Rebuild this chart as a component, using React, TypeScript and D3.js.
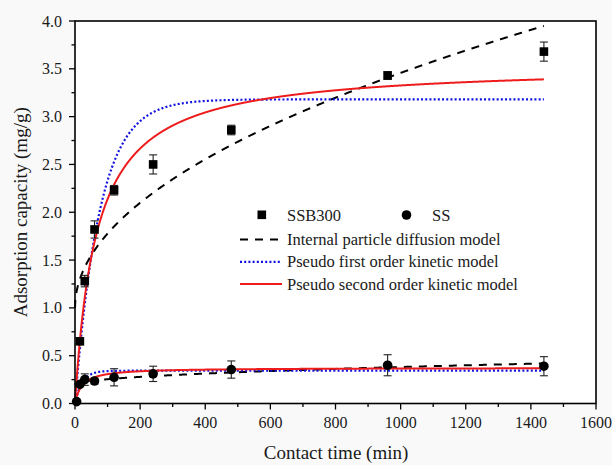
import React from "react";
import * as d3 from "d3";

// Contact times (min) and measured adsorption capacities (mg/g)
const ssb300Time = [15, 30, 60, 120, 240, 480, 960, 1440];
const ssb300Q = [0.65, 1.28, 1.82, 2.23, 2.50, 2.86, 3.43, 3.68];
const ssb300Err = [0.02, 0.06, 0.09, 0.05, 0.10, 0.05, 0.04, 0.10];

const ssTime = [5, 15, 30, 60, 120, 240, 480, 960, 1440];
const ssQ = [0.02, 0.20, 0.25, 0.235, 0.274, 0.31, 0.355, 0.40, 0.39];
const ssErr = [0, 0.02, 0.06, 0.03, 0.09, 0.08, 0.09, 0.11, 0.10];

// Fitted kinetic model parameters
// intra-particle diffusion: q = kid * sqrt(t) + C
const ipdSSB300 = { kid: 0.0777, c: 1.0 };
const ipdSS = { kid: 0.0059, c: 0.195 };
// pseudo first order: q = qe (1 - exp(-k1 t))
const pfoSSB300 = { qe: 3.18, k1: 0.0132 };
const pfoSS = { qe: 0.343, k1: 0.045 };
// pseudo second order: q = qe t / (h + t), h = 1 / (k2 qe)
const psoSSB300 = { qe: 3.545, h: 65.9 };
const psoSS = { qe: 0.3735, h: 21.7 };

const xTicks = [0, 200, 400, 600, 800, 1000, 1200, 1400, 1600];
const yTicks = [0, 0.5, 1.0, 1.5, 2.0, 2.5, 3.0, 3.5, 4.0];

const legendLines = [
  { label: "Internal particle diffusion model", color: "#000000", dash: "8,7", width: 2 },
  { label: "Pseudo first order kinetic model", color: "#1010e0", dash: "2,2.2", width: 2.2 },
  { label: "Pseudo second order kinetic model", color: "#ee1c1c", dash: "", width: 2 },
];

const W = 612;
const H = 465;
const M = { left: 75, right: 596, top: 21, bottom: 403.5 };
const FONT = '"Liberation Serif", "Times New Roman", Times, serif';
const txt = { fontFamily: FONT };

export default function App() {
  const x = d3.scaleLinear().domain([0, 1600]).range([M.left, M.right]);
  const y = d3.scaleLinear().domain([0, 4]).range([M.bottom, M.top]);

  const tSamples = d3.range(0, 1440.001, 1);
  const line = d3
    .line<[number, number]>()
    .x((d) => x(d[0]))
    .y((d) => y(d[1]));

  const ipd = (p: { kid: number; c: number }) =>
    line(tSamples.map((t) => [t, p.c + p.kid * Math.sqrt(t)]))!;
  const pfo = (p: { qe: number; k1: number }) =>
    line(tSamples.map((t) => [t, p.qe * (1 - Math.exp(-p.k1 * t))]))!;
  const pso = (p: { qe: number; h: number }) =>
    line(tSamples.map((t) => [t, (p.qe * t) / (p.h + t)]))!;

  const xMinor = d3.range(100, 1600, 200);
  const yMinor = d3.range(0.25, 4, 0.5);

  const errBar = (t: number, q: number, e: number, key: string) => {
    if (e <= 0) return null;
    const cx = x(t);
    const y1 = y(q + e);
    const y2 = y(q - e);
    return (
      <g key={key} stroke="#222" strokeWidth={1.1}>
        <line x1={cx} x2={cx} y1={y1} y2={y2} />
        <line x1={cx - 4} x2={cx + 4} y1={y1} y2={y1} />
        <line x1={cx - 4} x2={cx + 4} y1={y2} y2={y2} />
      </g>
    );
  };

  const legX = 240;
  const legTextX = 287;

  return (
    <svg width={W} height={H} style={{ position: "absolute", left: 0, top: 0, fontFamily: FONT }}>
      <rect x={0} y={0} width={W} height={H} fill="#f9f9f9" />
      <rect
        x={M.left}
        y={M.top}
        width={M.right - M.left}
        height={M.bottom - M.top}
        fill="#ffffff"
      />

      {/* model curves */}
      <g fill="none">
        <path d={ipd(ipdSSB300)} stroke="#000" strokeWidth={2} strokeDasharray="8,7" />
        <path d={ipd(ipdSS)} stroke="#000" strokeWidth={2} strokeDasharray="8,7" />
        <path d={pfo(pfoSSB300)} stroke="#1010e0" strokeWidth={2.2} strokeDasharray="2,2.2" />
        <path d={pfo(pfoSS)} stroke="#1010e0" strokeWidth={2.2} strokeDasharray="2,2.2" />
        <path d={pso(psoSSB300)} stroke="#ee1c1c" strokeWidth={2} />
        <path d={pso(psoSS)} stroke="#ee1c1c" strokeWidth={2} />
      </g>

      {/* error bars */}
      {ssb300Time.map((t, i) => errBar(t, ssb300Q[i], ssb300Err[i], "eb" + i))}
      {ssTime.map((t, i) => errBar(t, ssQ[i], ssErr[i], "es" + i))}

      {/* data points */}
      {ssb300Time.map((t, i) => (
        <rect
          key={"sq" + i}
          x={x(t) - 4.3}
          y={y(ssb300Q[i]) - 4.3}
          width={8.6}
          height={8.6}
          fill="#000"
        />
      ))}
      {ssTime.map((t, i) => (
        <circle key={"ci" + i} cx={x(t)} cy={y(ssQ[i])} r={4.8} fill="#000" />
      ))}

      {/* frame */}
      <rect
        x={M.left}
        y={M.top}
        width={M.right - M.left}
        height={M.bottom - M.top}
        fill="none"
        stroke="#000"
        strokeWidth={1.6}
      />

      {/* ticks */}
      <g stroke="#000" strokeWidth={1.3}>
        {xTicks.map((v) => (
          <line key={"xt" + v} x1={x(v)} x2={x(v)} y1={M.bottom} y2={M.bottom + 6} />
        ))}
        {xMinor.map((v) => (
          <line key={"xm" + v} x1={x(v)} x2={x(v)} y1={M.bottom} y2={M.bottom + 3.5} />
        ))}
        {yTicks.map((v) => (
          <line key={"yt" + v} x1={M.left - 6} x2={M.left} y1={y(v)} y2={y(v)} />
        ))}
        {yMinor.map((v) => (
          <line key={"ym" + v} x1={M.left - 3.5} x2={M.left} y1={y(v)} y2={y(v)} />
        ))}
      </g>

      <g fontSize={16} fill="#1a1a1a">
        {xTicks.map((v) => (
          <text key={"xl" + v} x={x(v)} y={428} textAnchor="middle" style={txt}>
            {String(v)}
          </text>
        ))}
        {yTicks.map((v) => (
          <text key={"yl" + v} x={62} y={y(v) + 5.5} textAnchor="end" style={txt}>
            {v.toFixed(1)}
          </text>
        ))}
      </g>

      {/* axis titles */}
      <text x={336} y={459} fontSize={19} textAnchor="middle" fill="#1a1a1a" style={txt}>
        Contact time (min)
      </text>
      <text
        transform={`translate(27, ${(M.top + M.bottom) / 2}) rotate(-90)`}
        fontSize={19}
        textAnchor="middle"
        fill="#1a1a1a"
        style={txt}
      >
        Adsorption capacity (mg/g)
      </text>

      {/* legend */}
      <g fontSize={16.5} fill="#1a1a1a">
        <rect x={257.5} y={210.5} width={8.6} height={8.6} fill="#000" />
        <text x={legTextX} y={220.5} style={txt}>SSB300</text>
        <circle cx={406.5} cy={215} r={4.8} fill="#000" />
        <text x={432} y={220.5} style={txt}>SS</text>
        {legendLines.map((l, i) => {
          const ly = 239.5 + i * 22.3;
          return (
            <g key={"lg" + i}>
              <line
                x1={legX}
                x2={legX + 42}
                y1={ly}
                y2={ly}
                stroke={l.color}
                strokeWidth={l.width}
                strokeDasharray={l.dash || undefined}
              />
              <text x={legTextX} y={ly + 5.5} style={txt}>
                {l.label}
              </text>
            </g>
          );
        })}
      </g>
    </svg>
  );
}
